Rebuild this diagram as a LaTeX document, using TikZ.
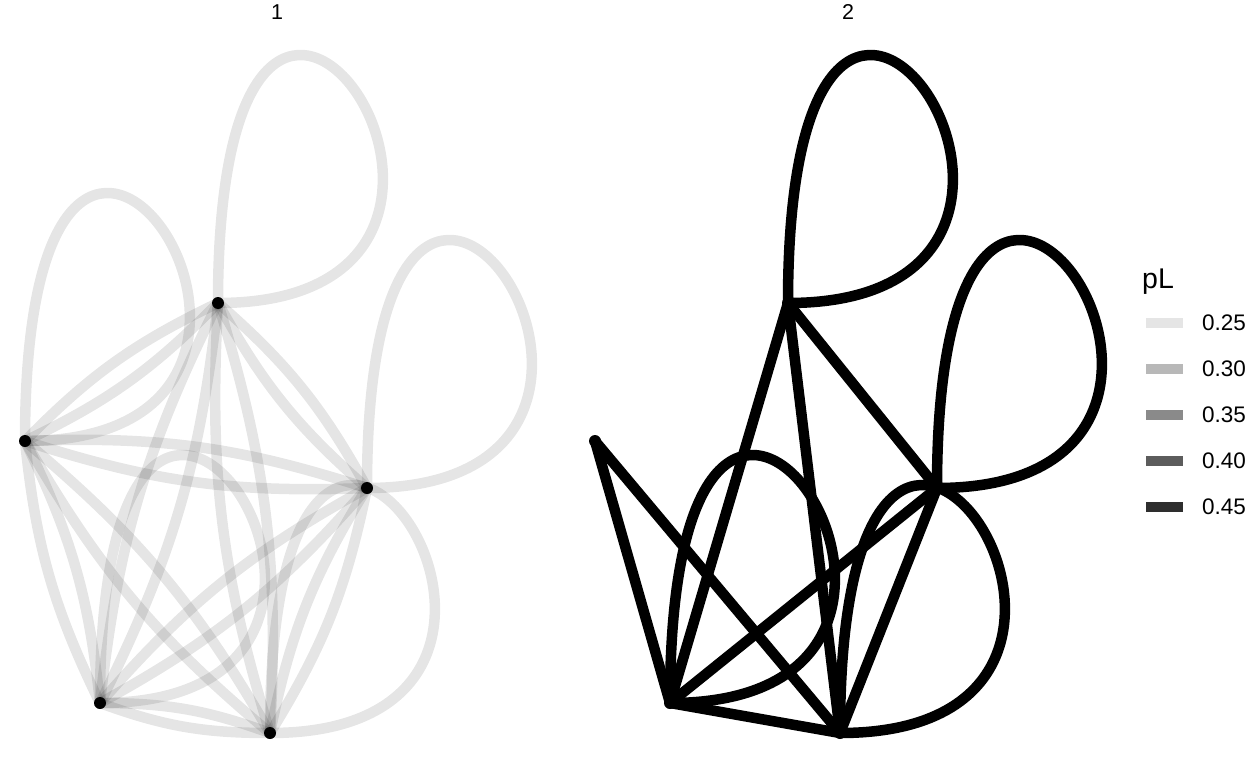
\documentclass[tikz,border=0pt]{standalone}
\usepackage{fontspec}
\setmainfont{Liberation Sans}
\usetikzlibrary{positioning}

\begin{document}
\begin{tikzpicture}[
  x=1pt, y=-1pt,
  conn/.style={line width=10.5pt, draw=black, draw opacity=#1},
  conn/.default=1,
  vertex/.style={circle, fill=black, inner sep=0pt, minimum size=12pt},
  strip/.style={font=\fontsize{21.5}{26}\selectfont, anchor=base},
  keytext/.style={font=\fontsize{22.5}{27}\selectfont, anchor=west, inner sep=0pt},
  keytitle/.style={font=\fontsize{28.5}{34}\selectfont, anchor=base west, inner sep=0pt}
]
  \useasboundingbox (0,0) rectangle (1248,768);

  % vertex positions, panel 2 is panel 1 moved right
  \foreach \n/\x/\y in {a/218/303, b/25/441, c/367/488, d/100/703, e/270/733} {
    \coordinate (\n1) at (\x,\y);
    \coordinate (\n2) at (\x+570,\y);
  }

  \node[strip] (title1) at (277,19.5) {1};
  \node[strip] (title2) at (848,19.5) {2};

  % panel 1: every pair twice, plus a loop on each vertex
  \foreach \s/\t in {a1/b1,a1/c1,a1/d1,a1/e1,b1/c1,b1/d1,b1/e1,c1/d1,c1/e1,d1/e1} {
    \draw[conn=0.1] (\s) to[bend left=10] (\t);
    \draw[conn=0.1] (\s) to[bend right=10] (\t);
  }
  \foreach \s in {a1,b1,c1,d1,e1}
    \draw[conn=0.1] (\s) .. controls +(0,-558) and +(371,0) .. (\s);

  % panel 2
  \foreach \s/\t in {a2/c2,a2/d2,a2/e2,b2/d2,b2/e2,c2/d2,c2/e2,d2/e2}
    \draw[conn] (\s) -- (\t);
  \foreach \s in {a2,c2,d2,e2}
    \draw[conn] (\s) .. controls +(0,-558) and +(371,0) .. (\s);

  \foreach \s in {a1,b1,c1,d1,e1,a2,b2,c2,d2,e2}
    \node[vertex] (dot\s) at (\s) {};

  % legend
  \node[keytitle] (keyhead) at (1142,288) {pL};
  \foreach \v/\o [count=\i] in {0.25/0.1,0.30/0.28,0.35/0.46,0.40/0.64,0.45/0.82} {
    \coordinate (key\i) at (1146,{323+46*(\i-1)});
    \draw[conn=\o] (key\i) -- ++(37,0) coordinate (keyend\i);
    \node[keytext, right=19pt of keyend\i] (keylab\i) {\v};
  }
\end{tikzpicture}
\end{document}
